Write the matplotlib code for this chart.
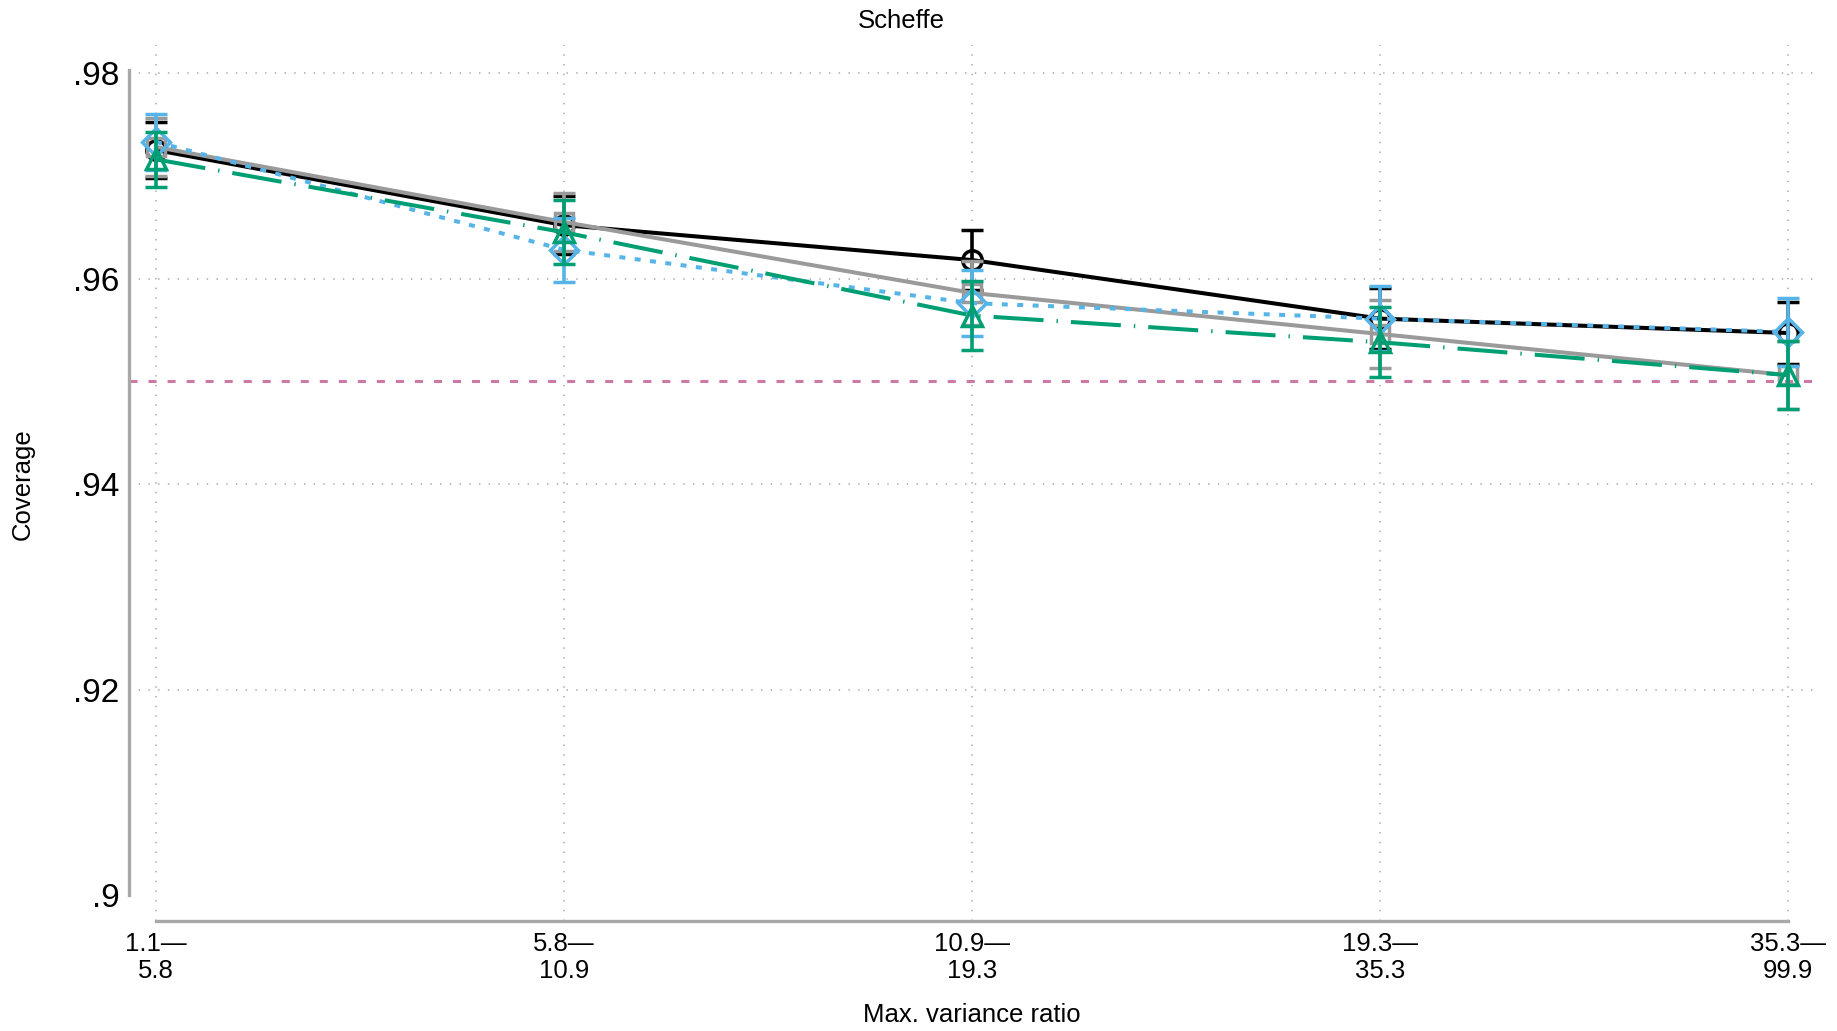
import matplotlib
matplotlib.use("Agg")
import matplotlib.pyplot as plt
import numpy as np

plt.rcParams['font.family'] = ['Liberation Sans', 'DejaVu Sans']
plt.rcParams['lines.scale_dashes'] = False

categories = ["1.1—\n5.8", "5.8—\n10.9", "10.9—\n19.3", "19.3—\n35.3", "35.3—\n99.9"]

black_vals = [0.9725, 0.9652, 0.9618, 0.9561, 0.9547]
black_hw = [0.0027, 0.0028, 0.0029, 0.0030, 0.0030]

gray_vals = [0.9728, 0.9655, 0.9586, 0.9546, 0.9506]
gray_hw = [0.0028, 0.0028, 0.0031, 0.0033, 0.0033]

blue_vals = [0.9733, 0.9628, 0.9576, 0.9561, 0.9548]
blue_hw = [0.0027, 0.0031, 0.0032, 0.0032, 0.0033]

green_vals = [0.9716, 0.9645, 0.9564, 0.9538, 0.9506]
green_hw = [0.0027, 0.0031, 0.0034, 0.0034, 0.0033]

ref_level = 0.95
yticks = [0.90, 0.92, 0.94, 0.96, 0.98]
ytick_labels = [".9", ".92", ".94", ".96", ".98"]

W, H = 1837, 1031
fig = plt.figure(figsize=(W / 100, H / 100), dpi=100)
ax = fig.add_axes([129 / W, 1 - 921 / H, (1817 - 129) / W, (921 - 45) / H])

x = np.arange(len(categories))
ax.set_xlim(-0.0662, 4.071)
ax.set_ylim(0.89747, 0.98273)

grid_kw = dict(color='#b4b4b4', lw=1.3, ls=(0, (1, 6)), zorder=0)
for yv in yticks[1:]:
    ax.axhline(yv, **grid_kw)
for xv in x:
    ax.axvline(xv, **grid_kw)

ax.axhline(ref_level, color='#CC79A7', lw=2.2, ls=(0, (5.8, 7.9)), zorder=1)

series = [
    (black_vals, black_hw, 'black', 'o', '-', 14),
    (gray_vals, gray_hw, '#9a9a9a', 's', '-', 13),
    (blue_vals, blue_hw, '#56B4E9', 'D', (0, (4.3, 6.8)), 14),
    (green_vals, green_hw, '#009E73', '^', (0, (36, 9.4, 1.0, 9.4)), 15),
]
for i, (vals, hw, col, mk, ls, ms) in enumerate(series):
    ax.errorbar(x, vals, yerr=hw, color=col, ecolor=col, elinewidth=2.6,
                capsize=8, capthick=2.8, marker=mk, ms=ms, mfc='none',
                mec=col, mew=2.5, ls=ls, lw=2.9, zorder=3 + i)

for s in ['top', 'right']:
    ax.spines[s].set_visible(False)
for s in ['left', 'bottom']:
    ax.spines[s].set_color('#a8a8a8')
    ax.spines[s].set_linewidth(2.4)
ax.spines['left'].set_bounds(0.9, 0.9803)
ax.spines['bottom'].set_bounds(0, 4)

ax.set_yticks(yticks)
ax.set_yticklabels(ytick_labels, fontsize=24)
ax.set_xticks(x)
ax.set_xticklabels(categories, fontsize=18.5, linespacing=1.15)
ax.tick_params(axis='both', length=0)
ax.tick_params(axis='y', pad=7)
ax.tick_params(axis='x', pad=8)

fig.text(901 / W, 1 - 21 / H, "Scheffe", ha='center', va='center', fontsize=18.5)
fig.text(972 / W, 1 - 1015 / H, "Max. variance ratio", ha='center', va='center', fontsize=18.5)
fig.text(23 / W, 1 - 484 / H, "Coverage", ha='center', va='center', rotation=90, fontsize=18.5)

fig.savefig("out.png", dpi=100)
